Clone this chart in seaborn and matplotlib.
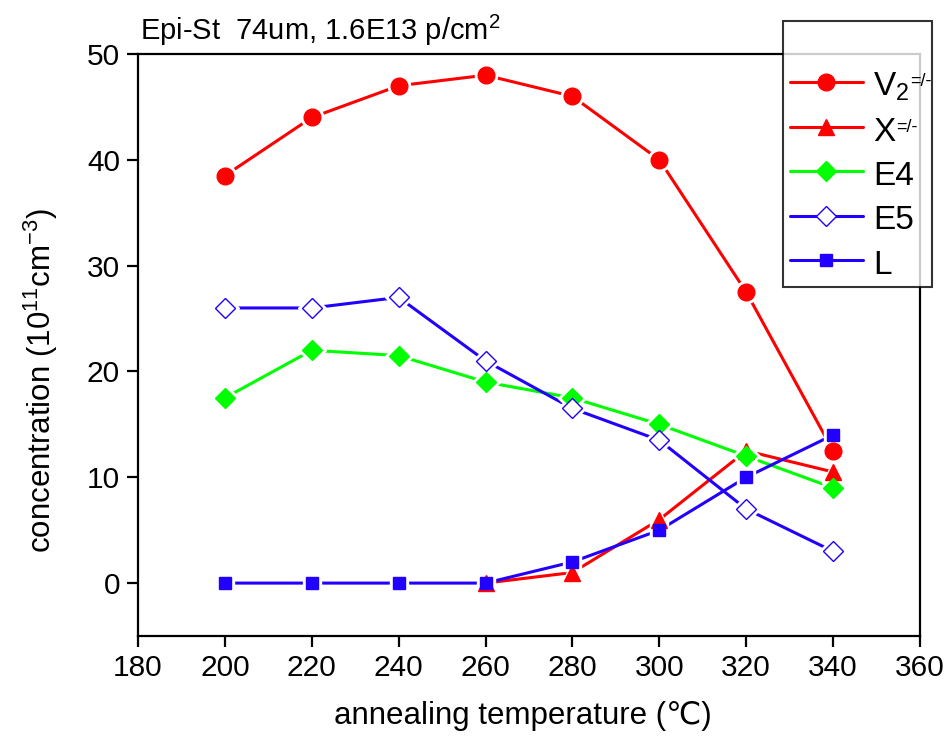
import matplotlib
matplotlib.use("Agg")
import matplotlib.pyplot as plt
import seaborn as sns
import pandas as pd
from matplotlib.lines import Line2D

temps = [200, 220, 240, 260, 280, 300, 320, 340]
v2 = [38.5, 44, 47, 48, 46, 40, 27.5, 12.5]
x_temps = [260, 280, 300, 320, 340]
xdef = [0, 1, 6, 12.5, 10.5]
e4 = [17.5, 22, 21.5, 19, 17.5, 15, 12, 9]
e5 = [26, 26, 27, 21, 16.5, 13.5, 7, 3]
ldef = [0, 0, 0, 0, 2, 5, 10, 14]

sns.set_style("ticks")
plt.rcParams['font.family'] = ['Liberation Sans', 'DejaVu Sans']
plt.rcParams['mathtext.fontset'] = 'custom'
plt.rcParams['mathtext.rm'] = 'Liberation Sans'
plt.rcParams['mathtext.default'] = 'regular'
for k in ['text.color', 'axes.labelcolor', 'xtick.color', 'ytick.color', 'axes.edgecolor']:
    plt.rcParams[k] = 'black'

RED = '#ff0000'
GREEN = '#00ff00'
BLUE = '#2200ff'

W, H = 946, 738
fig = plt.figure(figsize=(W/100, H/100), dpi=100)
ax = fig.add_axes([138/W, 1-636/H, (920-138)/W, (636-54)/H])

series = [
    ("V2", temps, v2, RED, 'o', RED, 12),
    ("X", x_temps, xdef, RED, '^', RED, 12),
    ("E4", temps, e4, GREEN, 'D', GREEN, 10),
    ("E5", temps, e5, BLUE, 'D', 'white', 10),
    ("L", temps, ldef, BLUE, 's', BLUE, 9),
]
for name, xs, ys, col, mk, fc, ms in series:
    df = pd.DataFrame({"t": xs, "c": ys})
    sns.lineplot(data=df, x="t", y="c", ax=ax, color=col, lw=2.2, zorder=2)
    ax.plot(xs, ys, ls='none', marker=mk, ms=ms+4, mfc='white', mec='white', zorder=3)
    ax.plot(xs, ys, ls='none', marker=mk, ms=ms, mfc=fc, mec=col, mew=1.0, zorder=4)

ax.set_xlim(180, 360)
ax.set_ylim(-5, 50)
ax.set_xticks(range(180, 361, 20))
ax.set_yticks(range(0, 51, 10))
ax.tick_params(direction='out', length=8, width=1.6, labelsize=21.5, pad=5, top=False, right=False)
for s in ax.spines.values():
    s.set_linewidth(1.6)
ax.set_xlabel('annealing temperature (\u2103)', fontsize=22.5, labelpad=0)
ax.xaxis.set_label_coords(0.492, -0.112)
ax.xaxis.label.set_va('top')
ax.set_ylabel('concentration (10$^{11}$cm$^{-3}$)', fontsize=22.5)
ax.yaxis.set_label_coords(-0.1, 0.44)
fig.text(140/W, 1-30/H, 'Epi-St  74um, 1.6E13 p/cm$^{2}$', fontsize=21, va='center')

handles = []
labels = ['V$_2$', 'X', 'E4', 'E5', 'L']
for (name, xs, ys, col, mk, fc, ms), lab in zip(series, labels):
    handles.append(Line2D([], [], color=col, lw=2.2, marker=mk, ms=ms, mfc=fc, mec=col))
leg = fig.legend(handles, labels, loc='upper left',
                 bbox_to_anchor=(783/W, 1-21/H, 149/W, 0.0001), mode='expand',
                 borderaxespad=0, title=' ', title_fontsize=24,
                 fontsize=24, frameon=True, fancybox=False, edgecolor='black',
                 handlelength=2.2, handleheight=1.1, borderpad=0.2,
                 labelspacing=0.3, handletextpad=0.3)
leg.get_frame().set_linewidth(1.5)
leg.set_zorder(10)

fig.canvas.draw()
texts = leg.get_texts()
for t in texts[:2]:
    bb = t.get_window_extent()
    fig.text((bb.x1 + 1)/W, (bb.y1 - 2)/H, '=/-', fontsize=13, va='top', ha='left',
             zorder=11)

fig.savefig('out.png', dpi=100)
